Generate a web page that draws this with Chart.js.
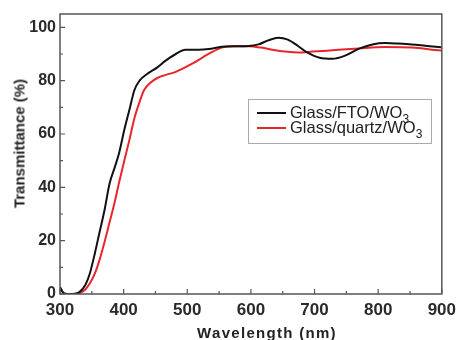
<!DOCTYPE html>
<html>
<head>
<meta charset="utf-8">
<script src="https://cdn.jsdelivr.net/npm/chart.js@4.4.1/dist/chart.umd.min.js"></script>
<style>
    html, body { margin: 0; padding: 0; background: #fff; }
    #wrap { position: relative; width: 462px; height: 340px; font-family: 'Liberation Sans', Arial, sans-serif; color: #222; }
    #chart { position: absolute; left: 0; top: 0; }
    .axis-title { position: absolute; font-weight: bold; font-size: 15px; line-height: 15px; text-align: center; white-space: nowrap; }
    #x-title { left: 167px; top: 325px; width: 200px; letter-spacing: 1.3px; }
    #y-title { left: -81px; top: 136px; width: 200px; transform: rotate(-90deg); }
    #legend { position: absolute; left: 248px; top: 99px; width: 182px; height: 43px; border: 1px solid #aaa; }
    .leg-line { position: absolute; left: 8px; width: 29px; height: 2px; }
    .leg-text { position: absolute; left: 41px; font-size: 16.5px; line-height: 16px; white-space: nowrap; }
    .leg-text sub { font-size: 12px; vertical-align: -5px; line-height: 0; }
</style>
</head>
<body>
<div id="wrap">
    <canvas id="chart" width="462" height="340"></canvas>
    <div class="axis-title" id="x-title">Wavelength (nm)</div>
    <div class="axis-title" id="y-title">Transmittance (%)</div>
    <div id="legend">
        <div class="leg-line" style="top: 12px; background: #111;"></div>
        <div class="leg-text" style="top: 4px;">Glass/FTO/WO<sub>3</sub></div>
        <div class="leg-line" style="top: 27px; background: #e8262a;"></div>
        <div class="leg-text" style="top: 19px;">Glass/quartz/WO<sub>3</sub></div>
    </div>
</div>
<script>
// Glass/FTO/WO3 (black)
const wavelengthFto = [300, 305, 310, 320, 330, 340, 347, 355, 362, 370, 378, 386, 393, 401, 409, 417, 425, 437, 453, 466, 482, 497, 518, 534, 554, 575, 596, 612, 627, 643, 658, 674, 687, 708, 728, 749, 770, 791, 811, 832, 853, 874, 895, 900];
const transFto = [2.5, 0.5, 0, 0, 0.6, 3.5, 7.8, 15.5, 23, 31.5, 41.5, 47.5, 53, 61.5, 69, 76.5, 80, 82.5, 85, 87.5, 90, 91.6, 91.6, 91.9, 92.7, 92.9, 93, 93.6, 95.1, 96.1, 95.4, 93, 90.8, 88.6, 88.2, 89.5, 92, 93.6, 94.1, 93.9, 93.6, 93.1, 92.6, 92.5];

// Glass/quartz/WO3 (red)
const wavelengthQuartz = [300, 305, 313, 322, 331, 339, 347, 355, 362, 370, 378, 386, 393, 401, 409, 417, 425, 432, 443, 453, 464, 482, 508, 534, 554, 575, 596, 616, 638, 658, 674, 697, 728, 770, 811, 853, 895, 900];
const transQuartz = [2.5, 0.5, 0, 0, 0.4, 1.5, 4, 7.8, 12.7, 19.5, 27, 34.5, 42, 50, 57.7, 66, 72, 76.4, 79.4, 81, 82, 83.3, 86.4, 90.1, 92.4, 92.9, 92.9, 92.4, 91.4, 90.8, 90.6, 90.9, 91.4, 92.1, 92.6, 92.4, 91.4, 91.3];

const xTicks = [300, 400, 500, 600, 700, 800, 900];
const yTicks = [0, 20, 40, 60, 80, 100];

const toPoints = (xs, ys) => xs.map((x, i) => ({ x: x, y: ys[i] }));

// Box around the plot plus inward tick marks
const frameAndTicks = {
    id: 'frameAndTicks',
    afterDraw(chart) {
        const { ctx, chartArea: a, scales } = chart;
        ctx.save();
        ctx.strokeStyle = '#555';
        ctx.lineWidth = 1.5;
        ctx.strokeRect(a.left, a.top, a.right - a.left, a.bottom - a.top);

        ctx.lineWidth = 1.2;
        ctx.beginPath();
        for (let v = 300; v <= 900; v += 50) {
            const px = scales.x.getPixelForValue(v);
            const len = v % 100 === 0 ? 5 : 3;
            ctx.moveTo(px, a.bottom);
            ctx.lineTo(px, a.bottom - len);
        }
        for (let v = 0; v <= 100; v += 10) {
            const py = scales.y.getPixelForValue(v);
            const len = v % 20 === 0 ? 5 : 3;
            ctx.moveTo(a.left, py);
            ctx.lineTo(a.left + len, py);
        }
        ctx.stroke();
        ctx.restore();
    }
};

new Chart(document.getElementById('chart'), {
    type: 'line',
    data: {
        datasets: [
            {
                label: 'Glass/FTO/WO3',
                data: toPoints(wavelengthFto, transFto),
                borderColor: '#111',
                borderWidth: 2,
                pointRadius: 0,
                cubicInterpolationMode: 'monotone'
            },
            {
                label: 'Glass/quartz/WO3',
                data: toPoints(wavelengthQuartz, transQuartz),
                borderColor: '#e8262a',
                borderWidth: 2,
                pointRadius: 0,
                cubicInterpolationMode: 'monotone'
            }
        ]
    },
    options: {
        responsive: false,
        animation: false,
        layout: { padding: { top: 14, right: 17, left: 0, bottom: 0 } },
        plugins: {
            legend: { display: false },
            tooltip: { enabled: false }
        },
        scales: {
            x: {
                type: 'linear',
                min: 300,
                max: 900,
                grid: { display: false, drawTicks: false },
                border: { display: false },
                afterBuildTicks: (scale) => { scale.ticks = xTicks.map(v => ({ value: v })); },
                afterFit: (scale) => { scale.height = 46; },
                ticks: {
                    padding: 6,
                    color: '#2a2a2a',
                    font: { family: "'Liberation Sans', Arial, sans-serif", size: 17, weight: 'bold' }
                }
            },
            y: {
                min: 0,
                max: 105,
                grid: { display: false, drawTicks: false },
                border: { display: false },
                afterBuildTicks: (scale) => { scale.ticks = yTicks.map(v => ({ value: v })); },
                afterFit: (scale) => { scale.width = 60; },
                ticks: {
                    padding: 4,
                    color: '#2a2a2a',
                    font: { family: "'Liberation Sans', Arial, sans-serif", size: 16, weight: 'bold' }
                }
            }
        }
    },
    plugins: [frameAndTicks]
});
</script>
</body>
</html>
